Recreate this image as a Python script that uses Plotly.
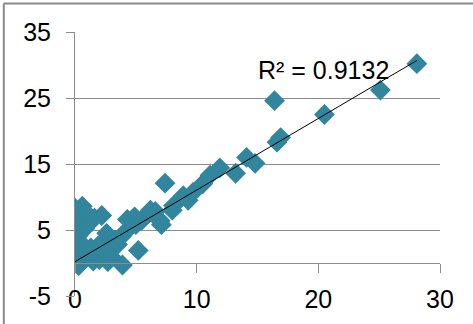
import plotly.graph_objects as go

x_vals = [0.0, 0.6, 0.0, 0.3, 0.0, 0.0, 0.2, 0.0, 0.0, 0.1, 0.0, 0.0, 0.3, 0.6, 1.1, 1.3,
          1.2, 0.8, 1.5, 2.0, 2.2, 2.6, 2.2, 2.8, 2.3, 3.0, 3.9, 3.5, 3.8, 4.3, 4.3, 4.9,
          5.0, 5.5, 5.9, 6.2, 6.6, 7.0, 7.1, 5.2, 7.4, 8.1, 8.0, 8.9, 9.3, 9.7, 10.5,
          11.1, 11.9, 13.2, 14.1, 14.8, 16.4, 16.6, 16.9, 20.5, 25.1, 28.1,
          0.9, 1.6, 0.5, 1.9, 3.3, 2.7]
y_vals = [8.3, 8.6, 7.2, 6.5, 5.8, 4.8, 4.0, 3.2, 2.4, 1.6, 0.8, 0.0, -0.4, 0.6, 1.2, 2.3,
          6.2, 5.2, 0.3, 0.5, 7.2, 4.5, 3.0, 2.0, 1.6, 0.9, -0.3, 2.8, 4.0, 5.0, 6.6, 7.0,
          5.8, 6.5, 7.3, 8.0, 7.8, 6.4, 5.8, 1.9, 12.1, 8.7, 8.0, 10.2, 9.5, 10.7, 12.0,
          13.3, 14.4, 13.6, 16.0, 15.1, 24.6, 18.3, 19.0, 22.5, 26.2, 30.2,
          7.6, 6.8, 3.0, 2.6, 3.5, 0.2]

y_ticks = [-5, 5, 15, 25, 35]
y_tick_text = ["-5", "5", "15", "25", "35"]
x_ticks = [0, 10, 20, 30]
r2_label = "R² = 0.9132"

# linear trendline
trend_slope = 1.085
trend_intercept = 0.2
trend_x = [min(x_vals), max(x_vals)]
trend_y = [trend_slope * v + trend_intercept for v in trend_x]

FONT = "Liberation Sans, Arial, sans-serif"
GRID = "#8c8c8c"

fig = go.Figure()
fig.add_trace(go.Scatter(
    x=x_vals, y=y_vals, mode="markers",
    marker=dict(symbol="diamond", size=16, color="#31859C", line=dict(width=0)),
    showlegend=False, hoverinfo="skip"))
fig.add_trace(go.Scatter(
    x=trend_x, y=trend_y, mode="lines",
    line=dict(color="#000000", width=1),
    showlegend=False, hoverinfo="skip"))

fig.add_annotation(x=20.4, y=29.2, xref="x", yref="y", text=r2_label,
                   showarrow=False, font=dict(family=FONT, size=25, color="#000000"),
                   xanchor="center", yanchor="middle")

# outer frame (top and left edges visible in the crop)
fig.add_shape(type="line", xref="paper", yref="paper", x0=-0.195, x1=1.2, y0=1.108, y1=1.108,
              line=dict(color="#8a8a8a", width=2))
fig.add_shape(type="line", xref="paper", yref="paper", x0=-0.195, x1=-0.195, y0=-0.2, y1=1.108,
              line=dict(color="#8a8a8a", width=2))

fig.update_layout(
    width=473, height=324,
    margin=dict(l=75, r=33, t=32, b=28),
    plot_bgcolor="white", paper_bgcolor="white",
    font=dict(family=FONT, size=25, color="#000000"),
    xaxis=dict(range=[0, 30], tickvals=x_ticks, showgrid=False, zeroline=False,
               anchor="free", position=0.125, showline=True, linecolor=GRID, linewidth=1,
               ticks="outside", ticklen=9, tickcolor=GRID, tickwidth=1,
               ticklabelstandoff=5, tickfont=dict(family=FONT, size=25)),
    yaxis=dict(range=[-5, 35], tickvals=y_ticks, ticktext=y_tick_text,
               showgrid=True, gridcolor=GRID, gridwidth=1,
               zeroline=False, showline=True, linecolor=GRID, linewidth=1,
               ticks="outside", ticklen=8, tickcolor=GRID, tickwidth=1,
               ticklabelstandoff=10, tickfont=dict(family=FONT, size=25)),
)

fig.write_html("out.html")
